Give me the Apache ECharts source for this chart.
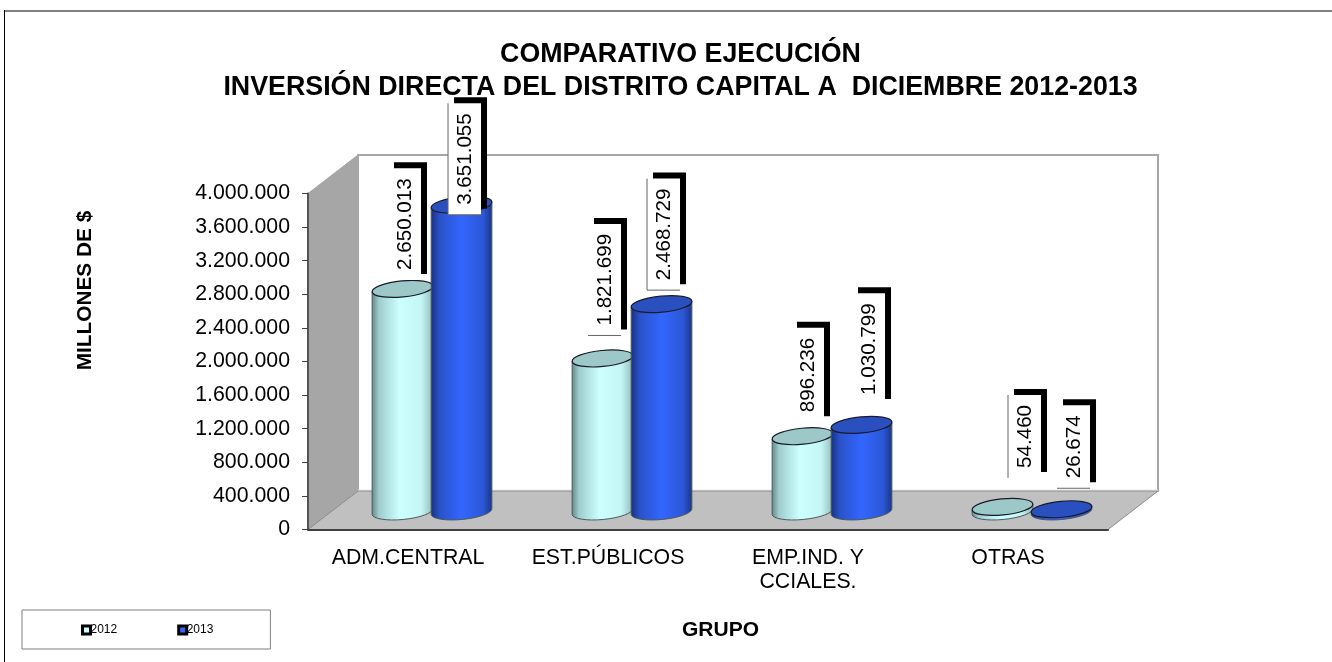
<!DOCTYPE html>
<html>
<head>
<meta charset="utf-8">
<title>Comparativo ejecución</title>
<style>
  html, body { margin: 0; padding: 0; background: #fff; }
  #chart { width: 1332px; height: 662px; }
</style>
<script src="https://cdn.jsdelivr.net/npm/echarts@6/dist/echarts.min.js"></script>
</head>
<body>
<div id="chart"></div>
<script>
const categories = ['ADM.CENTRAL', 'EST.PÚBLICOS', 'EMP.IND. Y\nCCIALES.', 'OTRAS'];
const values2012 = [2650013, 1821699, 896236, 54460];
const values2013 = [3651055, 2468729, 1030799, 26674];
const yTicks = { min: 0, max: 4000000, interval: 400000 };

// layout of the rotated labels: [shift right, lift above bar top, thin edges]
const labels2012 = [[2, 9, ''], [2, 23, 'B'], [5, 14, ''], [22, 29, 'L']];
const labels2013 = [[3, -10, 'LB'], [2, 14, 'LB'], [7, 20, ''], [12, 21, 'B']];

const FONT = '"Liberation Sans", Arial, sans-serif';
const fmt = v => String(v).replace(/\B(?=(\d{3})+$)/g, '.');

// perspectiva del piso: a media profundidad van las barras
const DEPTH = { x: 50, y: -38.5 };
const MID = { x: 25, y: -18 };
const TILT = -5.5 * Math.PI / 180;

function ellipsePath(cx, cy, rx, ry) {
  const ex = rx * Math.cos(TILT), ey = rx * Math.sin(TILT);
  const rot = TILT * 180 / Math.PI;
  return `M${cx - ex} ${cy - ey}A${rx} ${ry} ${rot} 1 1 ${cx + ex} ${cy + ey}A${rx} ${ry} ${rot} 1 1 ${cx - ex} ${cy - ey}Z`;
}

function bodyPath(cx, yTop, yBase, rx, ry) {
  const ex = rx * Math.cos(TILT), ey = rx * Math.sin(TILT);
  const rot = TILT * 180 / Math.PI;
  return `M${cx - ex} ${yTop - ey}L${cx + ex} ${yTop + ey}L${cx + ex} ${yBase + ey}A${rx} ${ry} ${rot} 0 1 ${cx - ex} ${yBase - ey}Z`;
}

function renderFrame(params) {
  const g = params.coordSys;
  const l = g.x, r = g.x + g.width, t = g.y, b = g.y + g.height;
  const dx = DEPTH.x, dy = DEPTH.y;
  const edge = { stroke: '#a6a6a6', lineWidth: 2 };
  return {
    type: 'group',
    children: [
      { type: 'rect', shape: { x: l + dx, y: t + dy, width: g.width, height: g.height }, style: { fill: '#fff', ...edge } },
      { type: 'polygon', shape: { points: [[l, t], [l + dx, t + dy], [l + dx, b + dy], [l, b]] }, style: { fill: '#a6a6a6', stroke: '#a6a6a6', lineWidth: 1 } },
      { type: 'polygon', shape: { points: [[l, b], [l + dx, b + dy], [r + dx, b + dy], [r, b]] }, style: { fill: '#c0c0c0', stroke: '#8c8c8c', lineWidth: 1 } },
      { type: 'line', shape: { x1: l + dx, y1: b + dy - 1, x2: r + dx, y2: b + dy - 1 }, style: { stroke: '#e4e4e4', lineWidth: 1 } },
    ]
  };
}

function labelGroup(text, cx, bottom, edges) {
  const w = 33;
  const digits = text.replace(/\./g, '').length;
  const h = digits * 11.45 + (text.length - digits) * 5.7 + 20;
  const x = cx - w / 2, y = bottom - h;
  const kids = [
    { type: 'rect', shape: { x: x + 6, y: y - 6, width: w, height: h }, style: { fill: '#000' } },
    { type: 'rect', shape: { x, y, width: w, height: h }, style: { fill: '#fff' } },
  ];
  if (edges.includes('L')) kids.push({ type: 'line', shape: { x1: x, y1: y, x2: x, y2: bottom }, style: { stroke: '#666', lineWidth: 1 } });
  if (edges.includes('B')) kids.push({ type: 'line', shape: { x1: x, y1: bottom, x2: x + w, y2: bottom }, style: { stroke: '#666', lineWidth: 1 } });
  kids.push({
    type: 'text', x: cx + 1, y: y + h / 2, rotation: Math.PI / 2,
    style: { text, fontFamily: FONT, fontSize: 20.6, fill: '#000', align: 'center', verticalAlign: 'middle' }
  });
  return { type: 'group', children: kids };
}

function cylinderRenderer(side, gradient, topColor, labelLayout) {
  return function (params, api) {
    const idx = api.value(0), val = api.value(1);
    const base = api.coord([idx, 0]);
    const top = api.coord([idx, val]);
    const band = api.size([1, 0])[0];
    const rx = band * 0.1525, ry = 8;
    const cx = base[0] + MID.x + side * rx;
    const yBase = base[1] + MID.y, yTop = top[1] + MID.y;
    const [shift, lift, edges] = labelLayout[idx];
    return {
      type: 'group',
      children: [
        { type: 'path', shape: { pathData: bodyPath(cx, yTop, yBase, rx, ry) },
          style: { fill: { type: 'linear', x: 0, y: 0, x2: 1, y2: 0, colorStops: gradient }, stroke: '#4d5a5a', lineWidth: 1 } },
        { type: 'path', shape: { pathData: ellipsePath(cx, yTop, rx, ry) },
          style: { fill: topColor, stroke: '#1a1a2a', lineWidth: 1.2 } },
        labelGroup(fmt(val), cx + shift, yTop - lift, edges),
      ]
    };
  };
}

const chart = echarts.init(document.getElementById('chart'));

chart.setOption({
  animation: false,
  backgroundColor: '#fff',
  title: {
    text: 'COMPARATIVO EJECUCIÓN\nINVERSIÓN DIRECTA DEL DISTRITO CAPITAL A  DICIEMBRE 2012-2013',
    left: 675.5, top: 33, textAlign: 'center',
    textStyle: { fontFamily: FONT, fontSize: 26.8, fontWeight: 'bold', color: '#000', lineHeight: 33 }
  },
  legend: {
    left: 22, top: 610, padding: [14, 57, 13, 59], itemGap: 60, itemWidth: 8, itemHeight: 8,
    borderColor: '#7f7f7f', borderWidth: 1,
    textStyle: { fontFamily: FONT, fontSize: 12, color: '#000', padding: [0, 0, 0, -5] },
    data: [
      { name: '2012', icon: 'rect', itemStyle: { color: '#ccffff', borderColor: '#000', borderWidth: 3 } },
      { name: '2013', icon: 'rect', itemStyle: { color: '#3366ff', borderColor: '#000', borderWidth: 3 } },
    ]
  },
  grid: { left: 308, top: 193.5, width: 800, height: 336 },
  xAxis: {
    type: 'category', data: categories, z: 5,
    name: 'GRUPO', nameLocation: 'middle', nameGap: 90,
    nameTextStyle: { fontFamily: FONT, fontSize: 21, fontWeight: 'bold', color: '#000', padding: [0, 0, 0, 25] },
    axisLine: { lineStyle: { color: '#404040', width: 2 } },
    axisTick: { length: 6, lineStyle: { color: '#404040' } },
    axisLabel: { fontFamily: FONT, fontSize: 21.3, color: '#000', margin: 17, lineHeight: 24, interval: 0 }
  },
  yAxis: {
    type: 'value', min: yTicks.min, max: yTicks.max, interval: yTicks.interval, z: 5,
    name: 'MILLONES DE $', nameLocation: 'middle', nameGap: 212, nameRotate: 90,
    nameTextStyle: { fontFamily: FONT, fontSize: 20.8, fontWeight: 'bold', color: '#000', padding: [0, 0, 0, 142] },
    splitLine: { show: false },
    axisLine: { show: true, lineStyle: { color: '#555', width: 2 } },
    axisTick: { show: true, length: 6, lineStyle: { color: '#404040' } },
    axisLabel: { fontFamily: FONT, fontSize: 21.3, color: '#000', margin: 18, padding: [6, 0, 0, 0], formatter: fmt }
  },
  graphic: [
    { type: 'line', z: 0, shape: { x1: 4, y1: 11, x2: 1332, y2: 11 }, style: { stroke: '#808080', lineWidth: 2 } },
    { type: 'line', z: 0, shape: { x1: 4.5, y1: 10, x2: 4.5, y2: 662 }, style: { stroke: '#000', lineWidth: 1 } }
  ],
  series: [
    { type: 'custom', name: 'frame', z: 1, silent: true, data: [[0, 0]], encode: { x: 0, y: 1 }, renderItem: renderFrame, legendHoverLink: false },
    {
      type: 'custom', name: '2012', z: 3,
      data: values2012.map((v, i) => [i, v]), encode: { x: 0, y: 1 },
      renderItem: cylinderRenderer(-1, [
        { offset: 0, color: '#5f8585' }, { offset: 0.12, color: '#9fcccc' }, { offset: 0.45, color: '#ccffff' },
        { offset: 0.8, color: '#c4f6f6' }, { offset: 1, color: '#8fb8b8' }
      ], '#9cc8c8', labels2012)
    },
    {
      type: 'custom', name: '2013', z: 4,
      data: values2013.map((v, i) => [i, v]), encode: { x: 0, y: 1 },
      renderItem: cylinderRenderer(0.935, [
        { offset: 0, color: '#16307f' }, { offset: 0.15, color: '#2a52c8' }, { offset: 0.5, color: '#3366ff' },
        { offset: 0.85, color: '#2b57d6' }, { offset: 1, color: '#183488' }
      ], '#2a50c0', labels2013)
    }
  ]
});
</script>
</body>
</html>
